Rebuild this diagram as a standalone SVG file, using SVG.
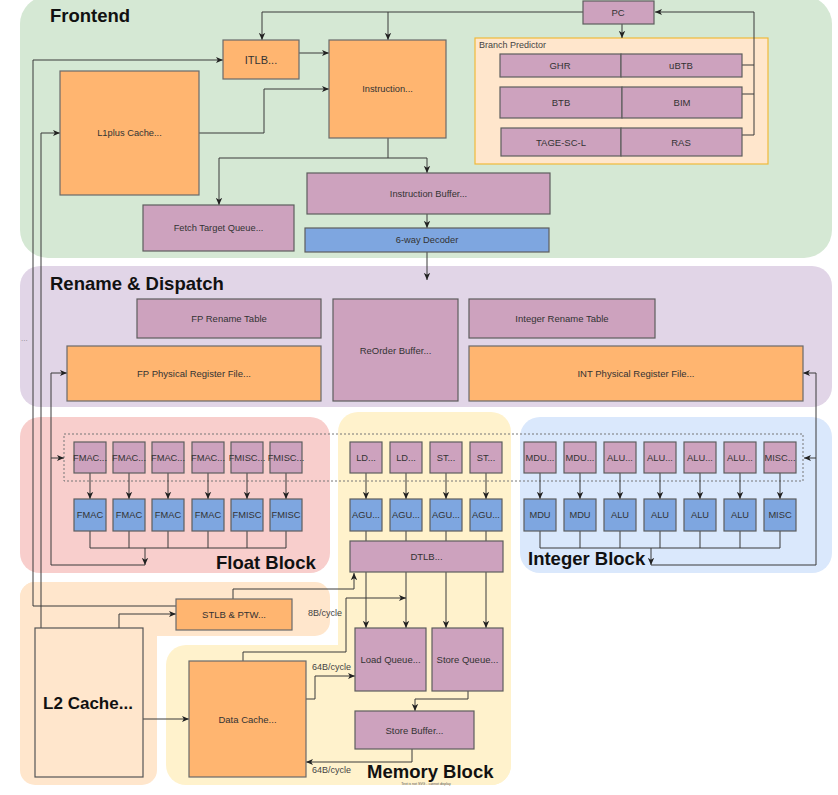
<svg xmlns="http://www.w3.org/2000/svg" width="838" height="795" viewBox="0 0 838 795">
<style>
.o{fill:#ffb570;stroke:#6a6a6a;stroke-width:1.2}
.p{fill:#cda2be;stroke:#5e5e5e;stroke-width:1.2}
.b{fill:#7ea6e0;stroke:#5e5e5e;stroke-width:1.2}
.t{font-family:"Liberation Sans",Arial,sans-serif;font-size:9.5px;fill:#333;text-anchor:middle;dominant-baseline:central}
.s{font-size:9.3px}
.h{font-family:"Liberation Sans",Arial,sans-serif;font-weight:bold;font-size:18.5px;fill:#111}
.c{fill:none;stroke:#3a3a3a;stroke-width:1}
.a{marker-end:url(#ar)}
.l{font-family:"Liberation Sans",Arial,sans-serif;font-size:9px;fill:#444}
</style>
<defs>
<marker id="ar" viewBox="0 0 10 10" refX="9" refY="5" markerWidth="8" markerHeight="8" markerUnits="userSpaceOnUse" orient="auto">
<path d="M0,1 L9,5 L0,9 L2.5,5 z" fill="#222"/>
</marker>
</defs>
<rect width="838" height="795" fill="#ffffff"/>
<g id="regions">
<rect x="20" y="-4" width="812" height="262" rx="28" fill="#d5e8d4"/>
<rect x="20" y="266" width="812" height="141" rx="20" fill="#e1d5e7"/>
<rect x="20" y="417" width="310" height="156" rx="20" fill="#f8cecc"/>
<rect x="520" y="417" width="312" height="156" rx="20" fill="#dae8fc"/>
<rect x="338" y="412" width="173" height="373" rx="20" fill="#fff2cc"/>
<rect x="166" y="645" width="345" height="140" rx="20" fill="#fff2cc"/>
<rect x="20" y="582" width="310" height="54" rx="15" fill="#ffe6cc"/>
<rect x="20" y="582" width="137" height="203" rx="15" fill="#ffe6cc"/>
<rect x="475" y="38" width="293" height="126" fill="#ffe6cc" stroke="#f0b93a" stroke-width="1.2"/>
<rect x="64" y="434" width="739" height="47" fill="none" stroke="#777" stroke-width="1" stroke-dasharray="2,2"/>
<text x="50" y="22" class="h">Frontend</text>
<text x="50" y="290" class="h">Rename &amp; Dispatch</text>
<text x="216" y="569" class="h">Float Block</text>
<text x="528" y="565" class="h">Integer Block</text>
<text x="367" y="778" class="h">Memory Block</text>
<text x="479" y="48" class="l">Branch Predictor</text>
<text x="21" y="341" class="l" style="fill:#888;font-size:8px">...</text>
<text x="426" y="785" style="font-family:'Liberation Sans',Arial,sans-serif;font-size:3.5px;fill:#555" text-anchor="middle">Text is not SVG - cannot display</text>
</g>
<g id="connectors">
<path class="c a" d="M583,12 H262 V40"/>
<path class="c a" d="M388,12 V40"/>
<path class="c" d="M742,65 H754 M742,94 H754"/>
<path class="c a" d="M742,135 H754 V12 H655"/>
<path class="c a" d="M622,24 V38"/>
<path class="c a" d="M299,53 H329"/>
<path class="c a" d="M199,133 H264 V89 H329"/>
<path class="c a" d="M388,138 V158 H219 V205"/>
<path class="c a" d="M388,158 H427 V173"/>
<path class="c a" d="M427,214 V228"/>
<path class="c a" d="M427,252 V280"/>
<path class="c a" d="M176,606 H33 V60 H223"/>
<path class="c a" d="M41,628 V133 H60"/>
<path class="c" d="M90,531 V548 M129,531 V548 M168,531 V548 M208,531 V548 M247,531 V548 M286,531 V548 M90,548 H286"/>
<path class="c a" d="M145,548 V565"/>
<path class="c a" d="M145,565 H51 V373 H67"/>
<path class="c a" d="M51,458 H64"/>
<path class="c a" d="M90,473 V499"/>
<path class="c a" d="M129,473 V499"/>
<path class="c a" d="M168,473 V499"/>
<path class="c a" d="M208,473 V499"/>
<path class="c a" d="M247,473 V499"/>
<path class="c a" d="M286,473 V499"/>
<path class="c a" d="M366,473 V499"/>
<path class="c a" d="M406,473 V499"/>
<path class="c a" d="M446,473 V499"/>
<path class="c a" d="M486,473 V499"/>
<path class="c" d="M366,531 V541 M406,531 V541 M446,531 V541 M486,531 V541"/>
<path class="c a" d="M366,572 V628"/>
<path class="c a" d="M406,572 V628"/>
<path class="c a" d="M446,572 V628"/>
<path class="c a" d="M486,572 V628"/>
<path class="c a" d="M233,599 V589 H354 V573"/>
<path class="c a" d="M243,661 V652 H346 V598 H406"/>
<path class="c a" d="M306,699 H315 V676 H355"/>
<path class="c a" d="M468,691 V699 H415 V711"/>
<path class="c a" d="M412,749 V762 H306"/>
<path class="c a" d="M143,719 H189"/>
<path class="c a" d="M119,628 V614 H176"/>
<path class="c a" d="M540,473 V499"/>
<path class="c a" d="M580,473 V499"/>
<path class="c a" d="M620,473 V499"/>
<path class="c a" d="M660,473 V499"/>
<path class="c a" d="M700,473 V499"/>
<path class="c a" d="M740,473 V499"/>
<path class="c a" d="M780,473 V499"/>
<path class="c" d="M540,531 V548 M580,531 V548 M620,531 V548 M660,531 V548 M700,531 V548 M740,531 V548 M780,531 V548 M540,548 H780"/>
<path class="c a" d="M651,548 V565"/>
<path class="c a" d="M651,565 H816 V373 H803"/>
<path class="c a" d="M816,458 H804"/>
<text x="308" y="616" class="l">8B/cycle</text>
<text x="312" y="670" class="l">64B/cycle</text>
<text x="312" y="773" class="l">64B/cycle</text>
</g>
<g id="pc"><rect class="p" x="583" y="1" width="71" height="23"/><text class="t" x="618" y="12.5">PC</text></g>
<g id="ghr"><rect class="p" x="500" y="54" width="121" height="23"/><text class="t" x="560" y="65.5">GHR</text></g>
<g id="ubtb"><rect class="p" x="621" y="54" width="121" height="23"/><text class="t" x="681" y="65.5">uBTB</text></g>
<g id="btb"><rect class="p" x="500" y="87" width="122" height="31"/><text class="t" x="561" y="102.5">BTB</text></g>
<g id="bim"><rect class="p" x="622" y="87" width="120" height="31"/><text class="t" x="682" y="102.5">BIM</text></g>
<g id="tage"><rect class="p" x="501" y="128" width="120" height="28"/><text class="t" x="561" y="142">TAGE-SC-L</text></g>
<g id="ras"><rect class="p" x="621" y="128" width="121" height="28"/><text class="t" x="681" y="142">RAS</text></g>
<g id="itlb"><rect class="o" x="223" y="40" width="76" height="39"/><text class="t" x="261" y="59.5" style="font-size:11px">ITLB...</text></g>
<g id="icache"><rect class="o" x="329" y="40" width="117" height="98"/><text class="t s" x="387.5" y="89">Instruction...</text></g>
<g id="l1plus"><rect class="o" x="60" y="71" width="139" height="124"/><text class="t s" x="129.5" y="133">L1plus Cache...</text></g>
<g id="ftq"><rect class="p" x="143" y="205" width="151" height="46"/><text class="t s" x="218.5" y="228">Fetch Target Queue...</text></g>
<g id="ibuf"><rect class="p" x="307" y="173" width="243" height="41"/><text class="t s" x="428.5" y="193.5">Instruction Buffer...</text></g>
<g id="decoder"><rect class="b" x="305" y="228" width="244" height="24"/><text class="t s" x="427" y="240">6-way Decoder</text></g>
<g id="fprt"><rect class="p" x="137" y="299" width="184" height="39"/><text class="t" x="229" y="318.5">FP Rename Table</text></g>
<g id="fpprf"><rect class="o" x="67" y="346" width="254" height="55"/><text class="t" x="194" y="373.5">FP Physical Register File...</text></g>
<g id="rob"><rect class="p" x="333" y="299" width="125" height="102"/><text class="t" x="395.5" y="350">ReOrder Buffer...</text></g>
<g id="intrt"><rect class="p" x="469" y="299" width="186" height="39"/><text class="t" x="562" y="318.5">Integer Rename Table</text></g>
<g id="intprf"><rect class="o" x="469" y="346" width="334" height="55"/><text class="t" x="636" y="373.5">INT Physical Register File...</text></g>
<g id="fiq1"><rect class="p" x="74" y="442" width="32" height="31"/><text class="t s" x="90" y="457.5">FMAC...</text></g>
<g id="fiq2"><rect class="p" x="113" y="442" width="32" height="31"/><text class="t s" x="129" y="457.5">FMAC...</text></g>
<g id="fiq3"><rect class="p" x="152" y="442" width="32" height="31"/><text class="t s" x="168" y="457.5">FMAC...</text></g>
<g id="fiq4"><rect class="p" x="192" y="442" width="32" height="31"/><text class="t s" x="208" y="457.5">FMAC...</text></g>
<g id="fiq5"><rect class="p" x="231" y="442" width="32" height="31"/><text class="t s" x="247" y="457.5">FMISC...</text></g>
<g id="fiq6"><rect class="p" x="270" y="442" width="32" height="31"/><text class="t s" x="286" y="457.5">FMISC...</text></g>
<g id="fex1"><rect class="b" x="74" y="499" width="32" height="32"/><text class="t s" x="90" y="515">FMAC</text></g>
<g id="fex2"><rect class="b" x="113" y="499" width="32" height="32"/><text class="t s" x="129" y="515">FMAC</text></g>
<g id="fex3"><rect class="b" x="152" y="499" width="32" height="32"/><text class="t s" x="168" y="515">FMAC</text></g>
<g id="fex4"><rect class="b" x="192" y="499" width="32" height="32"/><text class="t s" x="208" y="515">FMAC</text></g>
<g id="fex5"><rect class="b" x="231" y="499" width="32" height="32"/><text class="t s" x="247" y="515">FMISC</text></g>
<g id="fex6"><rect class="b" x="270" y="499" width="32" height="32"/><text class="t s" x="286" y="515">FMISC</text></g>
<g id="miq1"><rect class="p" x="350" y="442" width="32" height="31"/><text class="t s" x="366" y="457.5">LD...</text></g>
<g id="miq2"><rect class="p" x="390" y="442" width="32" height="31"/><text class="t s" x="406" y="457.5">LD...</text></g>
<g id="miq3"><rect class="p" x="430" y="442" width="32" height="31"/><text class="t s" x="446" y="457.5">ST...</text></g>
<g id="miq4"><rect class="p" x="470" y="442" width="32" height="31"/><text class="t s" x="486" y="457.5">ST...</text></g>
<g id="agu1"><rect class="b" x="350" y="499" width="32" height="32"/><text class="t s" x="366" y="515">AGU...</text></g>
<g id="agu2"><rect class="b" x="390" y="499" width="32" height="32"/><text class="t s" x="406" y="515">AGU...</text></g>
<g id="agu3"><rect class="b" x="430" y="499" width="32" height="32"/><text class="t s" x="446" y="515">AGU...</text></g>
<g id="agu4"><rect class="b" x="470" y="499" width="32" height="32"/><text class="t s" x="486" y="515">AGU...</text></g>
<g id="dtlb"><rect class="p" x="350" y="541" width="153" height="31"/><text class="t" x="426.5" y="556.5">DTLB...</text></g>
<g id="iiq1"><rect class="p" x="524" y="442" width="32" height="31"/><text class="t s" x="540" y="457.5">MDU...</text></g>
<g id="iiq2"><rect class="p" x="564" y="442" width="32" height="31"/><text class="t s" x="580" y="457.5">MDU...</text></g>
<g id="iiq3"><rect class="p" x="604" y="442" width="32" height="31"/><text class="t s" x="620" y="457.5">ALU...</text></g>
<g id="iiq4"><rect class="p" x="644" y="442" width="32" height="31"/><text class="t s" x="660" y="457.5">ALU...</text></g>
<g id="iiq5"><rect class="p" x="684" y="442" width="32" height="31"/><text class="t s" x="700" y="457.5">ALU...</text></g>
<g id="iiq6"><rect class="p" x="724" y="442" width="32" height="31"/><text class="t s" x="740" y="457.5">ALU...</text></g>
<g id="iiq7"><rect class="p" x="764" y="442" width="32" height="31"/><text class="t s" x="780" y="457.5">MISC...</text></g>
<g id="iex1"><rect class="b" x="524" y="499" width="32" height="32"/><text class="t s" x="540" y="515">MDU</text></g>
<g id="iex2"><rect class="b" x="564" y="499" width="32" height="32"/><text class="t s" x="580" y="515">MDU</text></g>
<g id="iex3"><rect class="b" x="604" y="499" width="32" height="32"/><text class="t s" x="620" y="515">ALU</text></g>
<g id="iex4"><rect class="b" x="644" y="499" width="32" height="32"/><text class="t s" x="660" y="515">ALU</text></g>
<g id="iex5"><rect class="b" x="684" y="499" width="32" height="32"/><text class="t s" x="700" y="515">ALU</text></g>
<g id="iex6"><rect class="b" x="724" y="499" width="32" height="32"/><text class="t s" x="740" y="515">ALU</text></g>
<g id="iex7"><rect class="b" x="764" y="499" width="32" height="32"/><text class="t s" x="780" y="515">MISC</text></g>
<g id="stlb"><rect class="o" x="176" y="599" width="116" height="31"/><text class="t" x="234" y="614.5">STLB &amp; PTW...</text></g>
<g id="l2"><rect x="35" y="628" width="108" height="149" fill="#ffe6cc" stroke="#555" stroke-width="1.2"/><text class="t" x="88" y="703" style="font-size:17px;font-weight:bold;fill:#111">L2 Cache...</text></g>
<g id="dcache"><rect class="o" x="189" y="661" width="117" height="116"/><text class="t" x="247.5" y="719">Data Cache...</text></g>
<g id="lq"><rect class="p" x="355" y="628" width="71" height="63"/><text class="t" x="390.5" y="659.5">Load Queue...</text></g>
<g id="sq"><rect class="p" x="432" y="628" width="71" height="63"/><text class="t" x="467.5" y="659.5">Store Queue...</text></g>
<g id="sb"><rect class="p" x="355" y="711" width="119" height="38"/><text class="t" x="414.5" y="730">Store Buffer...</text></g>
</svg>
